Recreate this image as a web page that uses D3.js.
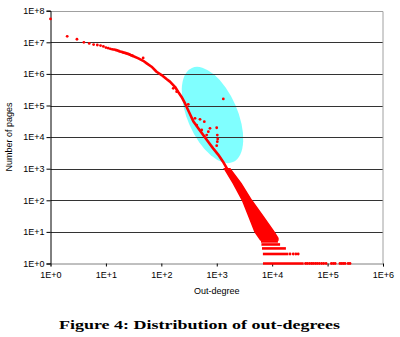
<!DOCTYPE html>
<html><head><meta charset="utf-8">
<script src="https://cdn.jsdelivr.net/npm/d3@7"></script>
<style>html,body{margin:0;padding:0;background:#fff;} svg{display:block;}</style>
</head><body>
<svg id="c" width="400" height="337"></svg>
<script>
// ---- data ----
const xTickValues = [1, 1e1, 1e2, 1e3, 1e4, 1e5, 1e6];
const xTickLabels = ["1E+0", "1E+1", "1E+2", "1E+3", "1E+4", "1E+5", "1E+6"];
const yTickValues = [1, 1e1, 1e2, 1e3, 1e4, 1e5, 1e6, 1e7, 1e8];
const yTickLabels = ["1E+0", "1E+1", "1E+2", "1E+3", "1E+4", "1E+5", "1E+6", "1E+7", "1E+8"];

// individual points at small out-degrees
const dotDegree = [1, 2, 3, 4, 5, 6, 7, 8, 9, 10, 11, 12, 13, 14, 15, 16, 17, 18, 19, 20, 21, 22, 23, 24, 25, 26, 27, 28, 29, 30];
const dotPages = [5.5e7, 1.55e7, 1.25e7, 1.0e7, 9.2e6, 8.5e6, 8.2e6, 7.9e6, 7.4e6, 6.8e6, 6.5e6, 6.2e6, 6.0e6, 5.9e6, 5.7e6, 5.5e6, 5.3e6, 5.1e6, 5.0e6, 4.85e6, 4.7e6, 4.6e6, 4.5e6, 4.4e6, 4.3e6, 4.2e6, 4.05e6, 3.95e6, 3.85e6, 3.75e6];

// dense part of the curve (points merge into a thick line)
const curveDegree = [30, 38.5, 47, 54.5, 66.6, 82, 101, 124, 143, 176, 202, 232, 268, 292, 328, 377, 464, 570, 700, 860, 1060, 1290, 1530];
const curvePages = [3.75e6, 3.1e6, 2.6e6, 2.16e6, 1.69e6, 1.17e6, 9.2e5, 6.9e5, 5.7e5, 3.9e5, 2.67e5, 1.86e5, 1.16e5, 8.3e4, 5.4e4, 3.2e4, 1.9e4, 1.16e4, 7.1e3, 4.4e3, 2.8e3, 1.7e3, 1.0e3];

// scattered points off the curve (inside the highlighted ellipse)
const outlierDegree = [47, 1313, 306, 405, 499, 596, 435, 535, 705, 658, 755, 997, 1023, 1040, 1023, 997, 164, 189];
const outlierPages = [3.2e6, 1.61e5, 1.09e5, 3.94e4, 3.66e4, 3.07e4, 2.4e4, 1.68e4, 1.48e4, 1.16e4, 1.9e4, 1.98e4, 1.16e4, 8.7e3, 7.15e3, 5.34e3, 3.5e5, 2.74e5];

// fan-shaped spread of the tail: page count with lowest / highest out-degree
const spreadPages = [1000, 345, 100, 30, 10, 6.3, 5.5];
const spreadLowDegree = [1380, 1990, 2910, 3820, 4900, 5900, 6200];
const spreadHighDegree = [1730, 2740, 4240, 6970, 10800, 12700, 12700];

// horizontal bands at small page counts
const bandPages = [1, 2, 3, 4, 5];
const bandStartDegree = [6830, 6800, 6550, 6400, 6280];
const bandEndDegree = [37000, 19600, 17700, 13900, 12700];

// sparse single points at the end of the bands
const sparseDegree = [40000, 43000, 47000, 51000, 55000, 60000, 65000, 71000, 78000, 85000, 94000, 117000, 127000, 137000, 167000, 180000, 193000, 207000, 235000, 254000, 21000, 24000, 26800, 29500];
const sparsePages = [1, 1, 1, 1, 1, 1, 1, 1, 1, 1, 1, 1, 1, 1, 1, 1, 1, 1, 1, 1, 2, 2, 2, 2];

// highlighted ellipse: ends of its long axis
const ellipseEndDegree = [357, 1963];
const ellipseEndPages = [1.55e6, 1620];

const xTitle = "Out-degree";
const yTitle = "Number of pages";
const caption = "Figure 4: Distribution of out-degrees";

// ---- drawing ----
const svg = d3.select("#c");
const pLeft = 50.5, pRight = 383, pTop = 10.7, pBottom = 263.5;
const x = d3.scaleLog().domain([1, 1e6]).range([pLeft, pRight]);
const y = d3.scaleLog().domain([1, 1e8]).range([pBottom, pTop]);
const red = "#ff0000";
const font = "'Liberation Sans', Arial, sans-serif";

svg.append("rect").attr("width", 400).attr("height", 337).attr("fill", "#fff");

// ellipse
{
  const x1 = x(ellipseEndDegree[0]), y1 = y(ellipseEndPages[0]);
  const x2 = x(ellipseEndDegree[1]), y2 = y(ellipseEndPages[1]);
  const cx = (x1 + x2) / 2, cy = (y1 + y2) / 2;
  const a = Math.hypot(x2 - x1, y2 - y1) / 2;
  const ang = Math.atan2(y2 - y1, x2 - x1) * 180 / Math.PI;
  svg.append("ellipse").attr("cx", 0).attr("cy", 0).attr("rx", a).attr("ry", 25)
    .attr("transform", `translate(${cx},${cy}) rotate(${ang})`)
    .attr("fill", "#80ffff");
}

// gridlines
svg.append("g").selectAll("line").data(yTickValues.slice(1, -1)).join("line")
  .attr("x1", pLeft).attr("x2", pRight)
  .attr("y1", d => Math.round(y(d)) + 0.5).attr("y2", d => Math.round(y(d)) + 0.5)
  .attr("stroke", "#333").attr("stroke-width", 1);

// frame top/right
svg.append("path").attr("d", `M${pLeft},${Math.round(pTop)+0.5}H${pRight}V${pBottom}`)
  .attr("fill", "none").attr("stroke", "#a0a0a0").attr("stroke-width", 1);

// axes
const yAxis = d3.axisLeft(y).tickValues(yTickValues).tickFormat((d, i) => yTickLabels[i]).tickSize(4).tickPadding(2);
const gy = svg.append("g").attr("transform", `translate(${pLeft},0)`).call(yAxis);
gy.select(".domain").attr("stroke", "#000");
gy.selectAll(".tick line").attr("stroke", "#000");
gy.selectAll("text").attr("font-family", font).attr("font-size", 9).attr("fill", "#000");

const xAxis = d3.axisBottom(x).tickValues(xTickValues).tickFormat((d, i) => xTickLabels[i]).tickSize(3).tickPadding(5);
const gx = svg.append("g").attr("transform", `translate(0,${pBottom})`).call(xAxis);
gx.select(".domain").attr("stroke", "#808080");
gx.selectAll(".tick line").attr("stroke", "#000");
gx.selectAll("text").attr("font-family", font).attr("font-size", 9).attr("fill", "#000");

// tail spread area
const spread = spreadPages.map((p, i) => ({p, lo: spreadLowDegree[i], hi: spreadHighDegree[i]}));
svg.append("path").datum(spread)
  .attr("d", d3.area().y(d => y(d.p)).x0(d => x(d.lo)).x1(d => x(d.hi)))
  .attr("fill", red).attr("stroke", red).attr("stroke-width", 1.5);

// dense curve
const curve = curveDegree.map((d, i) => [d, curvePages[i]]);
svg.append("path").datum(curve)
  .attr("d", d3.line().x(d => x(d[0])).y(d => y(d[1])))
  .attr("fill", "none").attr("stroke", red).attr("stroke-width", 2.6).attr("stroke-linejoin", "round");

// bands
svg.append("g").selectAll("line").data(bandPages).join("line")
  .attr("x1", (d, i) => x(bandStartDegree[i])).attr("x2", (d, i) => x(bandEndDegree[i]))
  .attr("y1", d => y(d)).attr("y2", d => y(d))
  .attr("stroke", red).attr("stroke-width", 2.6);

// points
const dots = dotDegree.map((d, i) => [d, dotPages[i]])
  .concat(outlierDegree.map((d, i) => [d, outlierPages[i]]))
  .concat(sparseDegree.map((d, i) => [d, sparsePages[i]]));
svg.append("g").selectAll("circle").data(dots).join("circle")
  .attr("cx", d => x(d[0])).attr("cy", d => y(d[1])).attr("r", 1.4).attr("fill", red);

// titles
svg.append("text").attr("x", (pLeft + pRight) / 2).attr("y", 294).attr("text-anchor", "middle")
  .attr("font-family", font).attr("font-size", 9).text(xTitle);
svg.append("text").attr("transform", `translate(12,${(pTop + pBottom) / 2}) rotate(-90)`)
  .attr("text-anchor", "middle").attr("font-family", font).attr("font-size", 9).text(yTitle);
svg.append("text").attr("x", 199.5).attr("y", 329).attr("text-anchor", "middle")
  .attr("font-family", "'Liberation Serif', 'Times New Roman', serif").attr("font-weight", "bold")
  .attr("font-size", 13).attr("textLength", 281).attr("lengthAdjust", "spacingAndGlyphs").text(caption);
</script>
</body></html>
